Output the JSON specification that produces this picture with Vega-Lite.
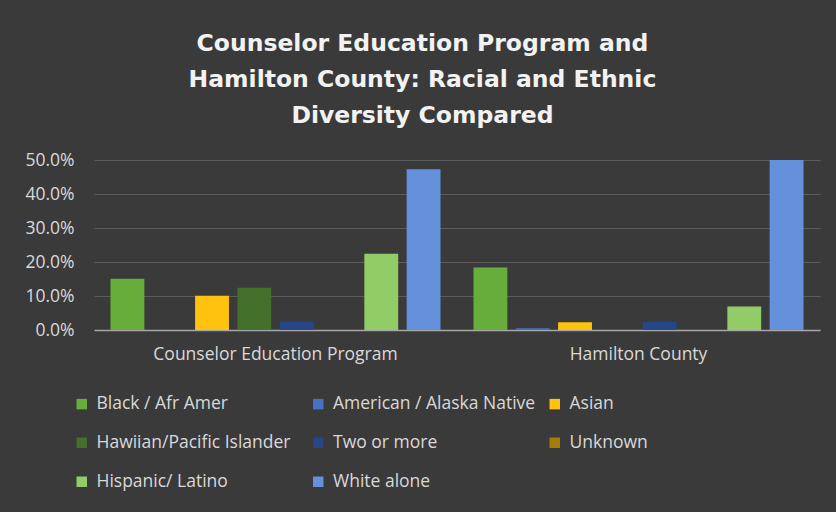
{
  "$schema": "https://vega.github.io/schema/vega-lite/v6.json",
  "width": 726,
  "height": 170,
  "autosize": {"type": "none"},
  "padding": {"left": 94, "top": 160, "right": 16, "bottom": 182},
  "background": "#3a3a3a",
  "title": {
    "text": ["Counselor Education Program and", "Hamilton County: Racial and Ethnic", "Diversity Compared"],
    "font": "DejaVu Sans",
    "fontSize": 23.5,
    "fontWeight": "bold",
    "color": "#f2f2f2",
    "lineHeight": 36,
    "anchor": "middle",
    "frame": "bounds",
    "offset": 24
  },
  "data": {
    "values": [
      {"group": "Counselor Education Program", "race": "Black / Afr Amer", "pct": 0.151},
      {"group": "Counselor Education Program", "race": "American / Alaska Native", "pct": 0.0},
      {"group": "Counselor Education Program", "race": "Asian", "pct": 0.101},
      {"group": "Counselor Education Program", "race": "Hawiian/Pacific Islander", "pct": 0.124},
      {"group": "Counselor Education Program", "race": "Two or more", "pct": 0.024},
      {"group": "Counselor Education Program", "race": "Unknown", "pct": 0.0},
      {"group": "Counselor Education Program", "race": "Hispanic/ Latino", "pct": 0.224},
      {"group": "Counselor Education Program", "race": "White alone", "pct": 0.473},
      {"group": "Hamilton County", "race": "Black / Afr Amer", "pct": 0.184},
      {"group": "Hamilton County", "race": "American / Alaska Native", "pct": 0.005},
      {"group": "Hamilton County", "race": "Asian", "pct": 0.023},
      {"group": "Hamilton County", "race": "Hawiian/Pacific Islander", "pct": 0.0},
      {"group": "Hamilton County", "race": "Two or more", "pct": 0.024},
      {"group": "Hamilton County", "race": "Unknown", "pct": 0.0},
      {"group": "Hamilton County", "race": "Hispanic/ Latino", "pct": 0.069},
      {"group": "Hamilton County", "race": "White alone", "pct": 0.5}
    ]
  },
  "mark": {"type": "bar"},
  "encoding": {
    "x": {
      "field": "group",
      "type": "nominal",
      "sort": null,
      "scale": {"paddingInner": 0, "paddingOuter": 0},
      "axis": {
        "title": null,
        "labelAngle": 0,
        "labelFont": "Open Sans",
        "labelFontSize": 17.5,
        "labelColor": "#d9d9d9",
        "labelPadding": 15,
        "labelLimit": 0,
        "ticks": false,
        "domainColor": "#a6a6a6",
        "domainWidth": 1.5
      }
    },
    "xOffset": {
      "field": "race",
      "type": "nominal",
      "sort": ["Black / Afr Amer", "American / Alaska Native", "Asian", "Hawiian/Pacific Islander", "Two or more", "Unknown", "Hispanic/ Latino", "White alone"],
      "scale": {"paddingInner": 0.2, "paddingOuter": 0.39}
    },
    "y": {
      "field": "pct",
      "type": "quantitative",
      "scale": {"domain": [0, 0.5], "nice": false},
      "axis": {
        "title": null,
        "format": ".1%",
        "values": [0, 0.1, 0.2, 0.3, 0.4, 0.5],
        "labelOverlap": false,
        "labelFont": "Open Sans",
        "labelFontSize": 17.5,
        "labelColor": "#d9d9d9",
        "labelPadding": 20,
        "ticks": false,
        "domain": false,
        "gridColor": "#5c5c5c",
        "gridWidth": 1
      }
    },
    "color": {
      "field": "race",
      "type": "nominal",
      "sort": ["Black / Afr Amer", "American / Alaska Native", "Asian", "Hawiian/Pacific Islander", "Two or more", "Unknown", "Hispanic/ Latino", "White alone"],
      "scale": {
        "domain": ["Black / Afr Amer", "American / Alaska Native", "Asian", "Hawiian/Pacific Islander", "Two or more", "Unknown", "Hispanic/ Latino", "White alone"],
        "range": ["#66ad3b", "#4472c4", "#ffc20e", "#43702a", "#25478a", "#a67c05", "#92cc66", "#6590dc"]
      },
      "legend": {
        "title": null,
        "orient": "none",
        "legendX": -21,
        "legendY": 235,
        "direction": "horizontal",
        "columns": 3,
        "gridAlign": "all",
        "columnPadding": 10.5,
        "rowPadding": 20,
        "symbolType": "square",
        "symbolSize": 110,
        "symbolStrokeWidth": 0,
        "labelFont": "Open Sans",
        "labelFontSize": 17.5,
        "labelLimit": 0,
        "labelColor": "#d9d9d9",
        "labelOffset": 6
      }
    }
  },
  "config": {
    "view": {"stroke": null}
  }
}
